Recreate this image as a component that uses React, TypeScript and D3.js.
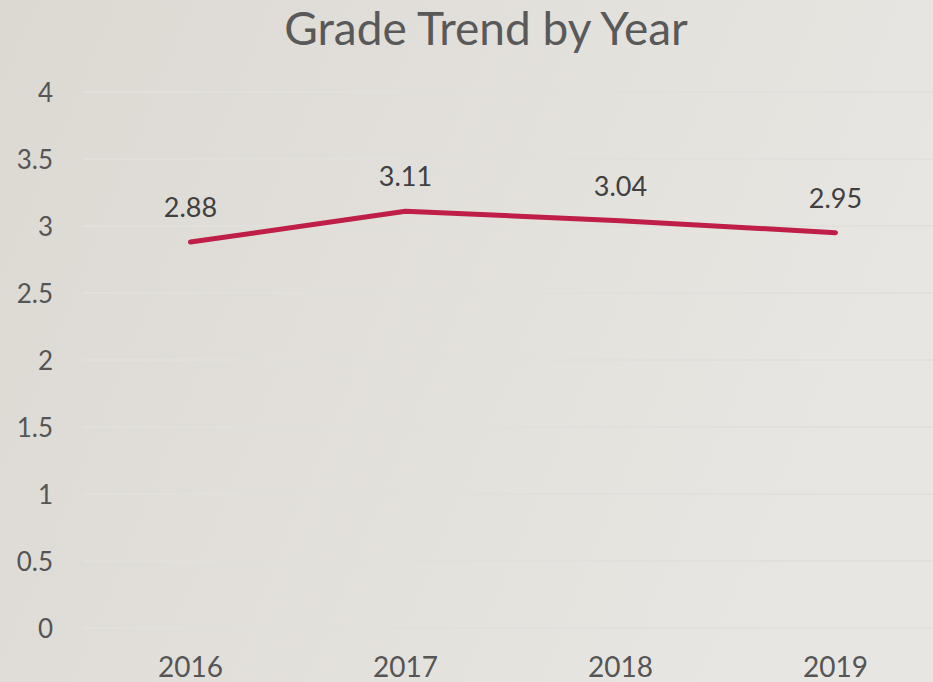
import React from "react";
import * as d3 from "d3";

const years = ["2016", "2017", "2018", "2019"];
const grades = [2.88, 3.11, 3.04, 2.95];
const yTicks = [0, 0.5, 1, 1.5, 2, 2.5, 3, 3.5, 4];

const W = 933;
const H = 682;
const FONT = "Lato, 'Open Sans', sans-serif";

const App = () => {
  const x = d3.scaleBand().domain(years).range([83, 943]);
  const y = d3.scaleLinear().domain([0, 4]).range([628, 92]);

  const line = d3
    .line<number>()
    .x((d, i) => x(years[i])! + x.bandwidth() / 2)
    .y((d) => y(d));

  return (
    <svg
      width={W}
      height={H}
      style={{ position: "absolute", left: 0, top: 0 }}
      fontFamily={FONT}
    >
      <defs>
        <linearGradient id="bg" x1="0" y1="0" x2="1" y2="0.3">
          <stop offset="0" stopColor="#dcd9d3" />
          <stop offset="1" stopColor="#e8e6e2" />
        </linearGradient>
      </defs>
      <rect width={W} height={H} fill="url(#bg)" />

      <text x={486} y={45} textAnchor="middle" fontSize={46} fill="#595959">
        Grade Trend by Year
      </text>

      {yTicks.map((t) => (
        <g key={t}>
          <line x1={83} x2={W} y1={y(t)} y2={y(t)} stroke="#e2e0dc" strokeWidth={2} />
          <text x={53} y={y(t) + 10} textAnchor="end" fontSize={26} fill="#555555">
            {t}
          </text>
        </g>
      ))}

      {years.map((yr) => (
        <text
          key={yr}
          x={x(yr)! + x.bandwidth() / 2}
          y={677}
          textAnchor="middle"
          fontSize={28}
          fill="#555555"
        >
          {yr}
        </text>
      ))}

      <path
        d={line(grades) || ""}
        fill="none"
        stroke="#be1e48"
        strokeWidth={5}
        strokeLinecap="round"
        strokeLinejoin="round"
      />

      {grades.map((g, i) => (
        <text
          key={i}
          x={x(years[i])! + x.bandwidth() / 2}
          y={y(g) - 25}
          textAnchor="middle"
          fontSize={27}
          fill="#404040"
        >
          {g}
        </text>
      ))}
    </svg>
  );
};

export default App;
